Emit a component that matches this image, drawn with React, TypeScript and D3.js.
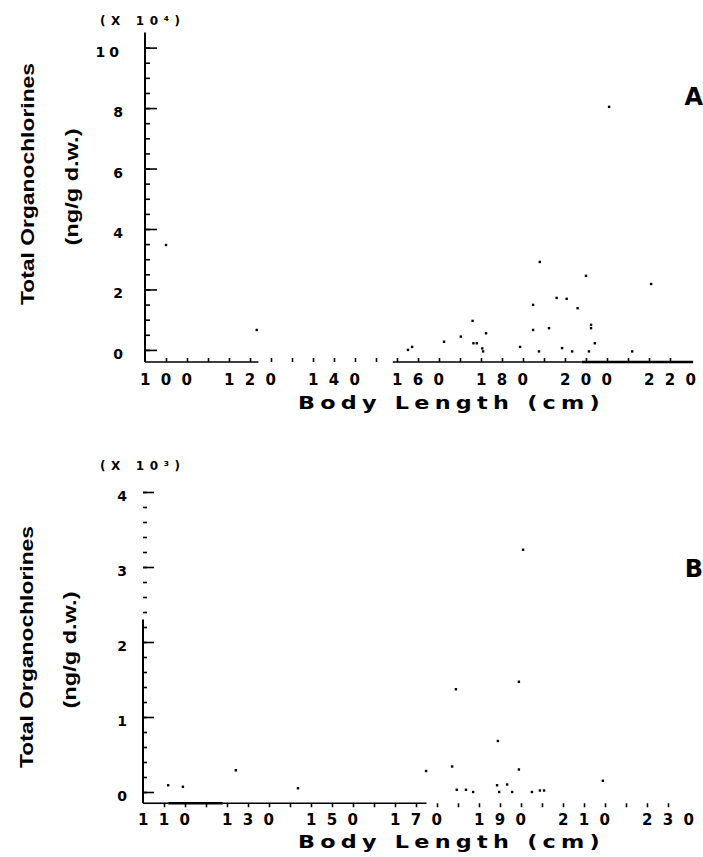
import React, { useRef, useEffect } from 'react';
import * as d3 from 'd3';

// Panel A: body length (cm) vs total organochlorines (x 10^4 ng/g d.w.)
const lengthA = [100, 121.6, 205.5, 189, 200, 215.5, 193, 195.4, 198, 187.4, 173, 187.4, 191.2, 201.2, 201.2, 176.2, 170.2, 166.2, 173.2, 174, 158.6, 157.6, 184.3, 194.3, 202.1, 175.5, 175.3, 188.8, 196.7, 200.7, 211];
const ocA = [3.47, 0.66, 8.04, 2.91, 2.45, 2.18, 1.72, 1.69, 1.38, 1.49, 0.96, 0.66, 0.72, 0.72, 0.83, 0.55, 0.44, 0.27, 0.22, 0.22, 0.1, 0.0, 0.1, 0.06, 0.22, -0.05, 0.05, -0.05, -0.05, -0.05, -0.05];
const xTicksA = [100, 120, 140, 160, 180, 200, 220];
const yTicksA = [0, 2, 4, 6, 8, 10];

// Panel B: body length (cm) vs total organochlorines (x 10^3 ng/g d.w.)
const lengthB = [111, 114.5, 127.1, 141.9, 195.5, 194.5, 179.5, 189.5, 178.6, 172.4, 194.5, 214.5, 179.7, 181.9, 183.6, 189.3, 191.7, 189.8, 192.9, 197.6, 199.5, 200.5];
const ocB = [0.09, 0.07, 0.29, 0.05, 3.23, 1.47, 1.37, 0.68, 0.34, 0.28, 0.3, 0.15, 0.03, 0.03, 0.0, 0.09, 0.1, 0.0, 0.0, 0.0, 0.02, 0.02];
const xTicksB = [110, 130, 150, 170, 190, 210, 230];
const yTicksB = [0, 1, 2, 3, 4];

const FONT = "'DejaVu Sans', 'Liberation Sans', Arial, sans-serif";
const NARROW = "'Liberation Sans', Arial, sans-serif";

const panels = [
  {
    key: 'A', len: lengthA, oc: ocA, xTicks: xTicksA, yTicks: yTicksA,
    xDomain: [95, 225.5], xRange: [145, 693.1], yDomain: [-0.4, 10.5], yRange: [362, 32.5],
    xMinor: d3.range(100, 225, 5), yMinor: d3.range(0, 21).map(i => i * 0.5),
    xTickSize: -4, yMinorSize: 5, yMajorSize: 12,
    xSegs: [[95, 122, 1.6], [154, 199, 1.6], [199, 225.5, 2.6]],
    ySegs: [[-0.4, 10.5, 2]],
    xLabelY: 385, yLabelX: 123, titleY: 409,
    yTitle: [34, 184], yUnit: [78, 187], scaleY: 25, scaleText: '(X 10⁴)',
    letterY: 105,
  },
  {
    key: 'B', len: lengthB, oc: ocB, xTicks: xTicksB, yTicks: yTicksB,
    xDomain: [105, 235.5], xRange: [143, 691.1], yDomain: [-0.15, 4.2], yRange: [803.25, 477],
    xMinor: d3.range(110, 235, 5), yMinor: d3.range(0, 21).map(i => i * 0.2),
    xTickSize: 4, yMinorSize: 4, yMajorSize: 11,
    xSegs: [[105, 111, 1.6], [111, 124, 2.6], [124, 172.5, 1.6]],
    ySegs: [[-0.15, 2.3, 2]],
    xLabelY: 825, yLabelX: 127, titleY: 848,
    yTitle: [33, 647], yUnit: [76, 650], scaleY: 470, scaleText: '(X 10³)',
    letterY: 577,
  },
];

const App = () => {
  const svgRef = useRef<SVGSVGElement>(null);

  useEffect(() => {
    const svg = d3.select(svgRef.current);
    svg.selectAll('*').remove();

    panels.forEach(p => {
      const x = d3.scaleLinear().domain(p.xDomain).range(p.xRange);
      const y = d3.scaleLinear().domain(p.yDomain).range(p.yRange);
      const g = svg.append('g');
      const axisY = y(p.yDomain[0]);
      const axisX = x(p.xDomain[0]);

      // axis lines (the scan has broken pieces, keep them)
      p.xSegs.forEach(([a, b, w]) => {
        g.append('line')
          .attr('x1', x(a)).attr('x2', x(b))
          .attr('y1', axisY).attr('y2', axisY)
          .attr('stroke', '#000').attr('stroke-width', w);
      });
      p.ySegs.forEach(([a, b, w]) => {
        g.append('line')
          .attr('x1', axisX).attr('x2', axisX)
          .attr('y1', y(a)).attr('y2', y(b))
          .attr('stroke', '#000').attr('stroke-width', w);
      });

      const clean = (a: any) => {
        a.select('.domain').remove();
        a.selectAll('text').remove();
        a.selectAll('line').attr('stroke', '#000').attr('stroke-width', 1.6);
      };

      // x ticks
      g.append('g')
        .attr('transform', `translate(0,${axisY})`)
        .call(d3.axisBottom(x).tickValues(p.xMinor).tickSize(p.xTickSize).tickSizeOuter(0))
        .call(clean);

      // y ticks, minor and major, pointing inward
      g.append('g')
        .attr('transform', `translate(${axisX},0)`)
        .call(d3.axisRight(y).tickValues(p.yMinor).tickSize(p.yMinorSize).tickSizeOuter(0))
        .call(clean);
      g.append('g')
        .attr('transform', `translate(${axisX},0)`)
        .call(d3.axisRight(y).tickValues(p.yTicks).tickSize(p.yMajorSize).tickSizeOuter(0))
        .call(clean);

      // x tick labels
      g.selectAll('text.xl')
        .data(p.xTicks)
        .join('text')
        .attr('class', 'xl')
        .attr('x', d => x(d) - 26)
        .attr('y', p.xLabelY)
        .attr('font-family', FONT)
        .attr('font-weight', 'bold')
        .attr('font-size', 15)
        .attr('textLength', 52)
        .attr('lengthAdjust', 'spacing')
        .text(d => d);

      // y tick labels
      g.selectAll('text.yl')
        .data(p.yTicks)
        .join('text')
        .attr('class', 'yl')
        .attr('x', p.yLabelX)
        .attr('y', d => y(d) + 9)
        .attr('text-anchor', 'end')
        .attr('font-family', FONT)
        .attr('font-weight', 'bold')
        .attr('font-size', 14)
        .attr('letter-spacing', d => (d >= 10 ? 4 : 0))
        .text(d => d);

      // points
      g.selectAll('rect.pt')
        .data(d3.range(p.len.length))
        .join('rect')
        .attr('class', 'pt')
        .attr('x', i => x(p.len[i]) - 1.2)
        .attr('y', i => y(p.oc[i]) - 1.2)
        .attr('width', 2.4)
        .attr('height', 2.4)
        .attr('fill', '#000');

      // x title
      g.append('text')
        .attr('x', 298)
        .attr('y', p.titleY)
        .attr('font-family', FONT)
        .attr('font-weight', 'bold')
        .attr('font-size', 17)
        .attr('letter-spacing', 4)
        .attr('textLength', 307)
        .attr('lengthAdjust', 'spacingAndGlyphs')
        .text('Body Length (cm)');

      // y title, two lines
      g.append('text')
        .attr('transform', `translate(${p.yTitle[0]},${p.yTitle[1]}) rotate(-90)`)
        .attr('text-anchor', 'middle')
        .attr('font-family', NARROW)
        .attr('font-weight', 'bold')
        .attr('font-size', 19)
        .attr('textLength', 242)
        .attr('lengthAdjust', 'spacingAndGlyphs')
        .text('Total Organochlorines');
      g.append('text')
        .attr('transform', `translate(${p.yUnit[0]},${p.yUnit[1]}) rotate(-90)`)
        .attr('text-anchor', 'middle')
        .attr('font-family', NARROW)
        .attr('font-weight', 'bold')
        .attr('font-size', 18)
        .attr('textLength', 117)
        .attr('lengthAdjust', 'spacingAndGlyphs')
        .text('(ng/g d.w.)');

      // scale factor
      g.append('text')
        .attr('x', 100)
        .attr('y', p.scaleY)
        .attr('font-family', FONT)
        .attr('font-weight', 'bold')
        .attr('font-size', 12)
        .attr('textLength', 80)
        .attr('lengthAdjust', 'spacing')
        .text(p.scaleText);

      // panel letter
      g.append('text')
        .attr('x', 703)
        .attr('y', p.letterY)
        .attr('text-anchor', 'end')
        .attr('font-family', FONT)
        .attr('font-weight', 'bold')
        .attr('font-size', 24)
        .text(p.key);
    });
  }, []);

  return (
    <svg
      ref={svgRef}
      width={703}
      height={857}
      style={{ position: 'absolute', left: 0, top: 0, background: '#fff', display: 'block' }}
    />
  );
};

export default App;
